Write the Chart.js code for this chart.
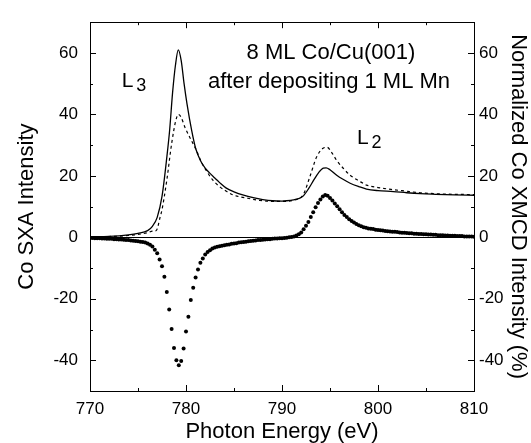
<!DOCTYPE html>
<html>
<head>
<meta charset="utf-8">
<script src="https://cdn.jsdelivr.net/npm/chart.js@4.4.1/dist/chart.umd.min.js"></script>
<style>
  html, body { margin: 0; padding: 0; background: #fff; }
  #wrap { width: 531px; height: 443px; }
</style>
</head>
<body>
<div id="wrap"><canvas id="xmcd" width="531" height="443"></canvas></div>
<script>
// Co L-edge absorption, 8 ML Co/Cu(001) after 1 ML Mn

// solid line (SXA, one helicity)
const solidEnergy = [770, 772, 774, 775, 776, 776.5, 777, 777.5, 778, 778.3, 778.6, 778.9, 779.2, 779.5, 779.8,
  780.1, 780.6, 781, 781.5, 782, 782.5, 783, 783.5, 784.2, 785, 786, 787, 788, 789, 790, 790.5, 791.2,
  791.7, 792.2, 792.8, 793.3, 793.8, 794.3, 794.6, 795, 795.7, 796.4, 797.1, 798, 798.8, 800, 801.6,
  803, 804.4, 806, 808, 810];
const solidValues = [0.2, 0.3, 0.8, 1.3, 2.2, 3.6, 6.5, 13.3, 26, 35, 47, 56, 61, 57.5, 50,
  43.5, 34.6, 29, 25, 22.5, 20.8, 19.3, 17.8, 16, 14.8, 13.7, 12.9, 12.3, 11.9, 11.8, 11.9, 12.2,
  12.6, 13.4, 16, 18.6, 21, 22.5, 22.6, 22, 20.2, 18.8, 17.6, 16.5, 15.7, 15.2, 14.9,
  14.5, 14.2, 14.0, 13.8, 13.7];

// dashed line (SXA, other helicity)
const dashedEnergy = [770, 774, 776, 776.5, 776.9, 777.3, 777.5, 778, 778.5, 778.9, 779.2, 779.5, 779.9,
  780.4, 781.1, 781.6, 782.2, 782.8, 783.5, 784.2, 784.9, 786.3, 787.7, 789, 790, 791.2, 792.2,
  792.9, 793.6, 794.2, 794.7, 795.2, 795.7, 796.4, 797.1, 798, 798.8, 800, 801.6, 803, 804.4,
  806, 808, 810];
const dashedValues = [0.1, 0.6, 1.5, 2.0, 2.2, 6.5, 9, 18.6, 30.4, 37.5, 40, 39, 35.7,
  32.5, 28.2, 24.5, 21.3, 18.6, 16.5, 15, 13.8, 12.8, 12.0, 11.7, 11.7, 12.1, 13.8,
  19.7, 26.1, 28.8, 29.3, 27.5, 25, 22.4, 20.2, 18.4, 17, 16.2, 15.5, 15, 14.5,
  14.2, 14.0, 13.9];

// dotted (XMCD difference, %)
const xmcdEnergy = [
  770, 770.25, 770.5, 770.75, 771, 771.25, 771.5, 771.75, 772, 772.25, 772.5, 772.75, 773, 773.25, 773.5, 773.75, 774, 774.25, 774.5, 774.75,
  775, 775.25, 775.5, 775.75, 776, 776.25, 776.5, 776.75, 777, 777.25, 777.5, 777.75, 778, 778.25, 778.5, 778.75, 779, 779.25, 779.5, 779.75,
  780, 780.25, 780.5, 780.75, 781, 781.25, 781.5, 781.75, 782, 782.25, 782.5, 782.75, 783, 783.25, 783.5, 783.75, 784, 784.25, 784.5, 784.75,
  785, 785.25, 785.5, 785.75, 786, 786.25, 786.5, 786.75, 787, 787.25, 787.5, 787.75, 788, 788.25, 788.5, 788.75, 789, 789.25, 789.5, 789.75,
  790, 790.25, 790.5, 790.75, 791, 791.25, 791.5, 791.75, 792, 792.25, 792.5, 792.75, 793, 793.25, 793.5, 793.75, 794, 794.25, 794.5, 794.75,
  795, 795.25, 795.5, 795.75, 796, 796.25, 796.5, 796.75, 797, 797.25, 797.5, 797.75, 798, 798.25, 798.5, 798.75, 799, 799.25, 799.5, 799.75,
  800, 800.25, 800.5, 800.75, 801, 801.25, 801.5, 801.75, 802, 802.25, 802.5, 802.75, 803, 803.25, 803.5, 803.75, 804, 804.25, 804.5, 804.75,
  805, 805.25, 805.5, 805.75, 806, 806.25, 806.5, 806.75, 807, 807.25, 807.5, 807.75, 808, 808.25, 808.5, 808.75, 809, 809.25, 809.5, 809.75,
  810];
const xmcdValues = [
  -0.2, -0.2, -0.3, -0.3, -0.3, -0.4, -0.4, -0.5, -0.5, -0.5, -0.6, -0.6, -0.7, -0.7, -0.8, -0.9, -0.9, -1.0, -1.1, -1.2,
  -1.3, -1.4, -1.5, -1.7, -2.0, -2.4, -3.0, -4.0, -5.2, -7.2, -9.4, -12.8, -17.8, -23.5, -29.8, -36.0, -40.0, -41.6, -40.2, -36.2,
  -30.6, -25.8, -20.4, -16.4, -13.1, -10.5, -8.3, -6.9, -5.6, -4.8, -4.2, -3.6, -3.3, -3.1, -2.9, -2.7, -2.6, -2.4, -2.3, -2.1,
  -2.0, -1.9, -1.7, -1.6, -1.5, -1.4, -1.3, -1.2, -1.1, -1.0, -0.9, -0.9, -0.8, -0.7, -0.6, -0.6, -0.5, -0.4, -0.4, -0.3,
  -0.3, -0.2, -0.1, 0.0, 0.1, 0.3, 0.6, 1.0, 1.6, 2.6, 3.8, 5.0, 6.6, 8.2, 9.8, 11.2, 12.3, 13.3, 13.8, 13.5,
  12.8, 12.0, 11.0, 10.1, 9.1, 8.2, 7.3, 6.6, 5.9, 5.3, 4.8, 4.3, 3.9, 3.6, 3.3, 3.1, 2.9, 2.8, 2.7, 2.5,
  2.4, 2.3, 2.2, 2.1, 2.0, 1.9, 1.8, 1.8, 1.7, 1.6, 1.5, 1.5, 1.4, 1.3, 1.3, 1.2, 1.2, 1.1, 1.1, 1.0,
  1.0, 0.9, 0.9, 0.8, 0.8, 0.7, 0.7, 0.7, 0.6, 0.6, 0.5, 0.5, 0.5, 0.4, 0.4, 0.4, 0.3, 0.3, 0.3, 0.3,
  0.2];

const xTicks = [770, 780, 790, 800, 810];
const yTicks = [-40, -20, 0, 20, 40, 60];

// text labels placed in data coordinates [energy, value]
const notes = [
  { text: '8 ML Co/Cu(001)', at: [795.1, 60.0], align: 'center' },
  { text: 'after depositing 1 ML Mn', at: [794.9, 50.4], align: 'center' }
];
const edges = [
  { main: 'L', sub: '3', at: [773.3, 50.9] },
  { main: 'L', sub: '2', at: [797.8, 32.3] }
];

const FONT = 'Liberation Sans, Arial, Helvetica, sans-serif';
Chart.defaults.font.family = FONT;
Chart.defaults.color = '#000';

function toPoints(xs, ys) {
  return xs.map((x, i) => ({ x: x, y: ys[i] }));
}

function fixTicks(values) {
  return function (scale) {
    scale.ticks = values.map(v => ({ value: v }));
  };
}

// draws the box, inward major/minor ticks and the text labels
const framePlugin = {
  id: 'framePlugin',
  afterDraw(chart) {
    const { ctx, chartArea: a, scales } = chart;
    ctx.save();
    ctx.strokeStyle = '#000';
    ctx.lineWidth = 1;
    ctx.strokeRect(Math.round(a.left) + 0.5, Math.round(a.top) + 0.5,
      Math.round(a.right - a.left), Math.round(a.bottom - a.top));

    function withMinor(vals, lo, hi) {
      const step = vals[1] - vals[0];
      const out = [];
      vals.forEach(v => {
        out.push([v, 6]);
        if (v + step / 2 > lo && v + step / 2 < hi) out.push([v + step / 2, 3]);
        if (v === vals[0] && v - step / 2 > lo) out.push([v - step / 2, 3]);
      });
      return out;
    }

    ctx.beginPath();
    withMinor(xTicks, scales.x.min, scales.x.max).forEach(([v, len]) => {
      const px = Math.round(scales.x.getPixelForValue(v)) + 0.5;
      ctx.moveTo(px, a.bottom); ctx.lineTo(px, a.bottom - len);
      ctx.moveTo(px, a.top); ctx.lineTo(px, a.top + len);
    });
    withMinor(yTicks, scales.y.min, scales.y.max).forEach(([v, len]) => {
      const py = Math.round(scales.y.getPixelForValue(v)) + 0.5;
      ctx.moveTo(a.left, py); ctx.lineTo(a.left + len, py);
      ctx.moveTo(a.right, py); ctx.lineTo(a.right - len, py);
    });
    ctx.stroke();

    ctx.fillStyle = '#000';
    ctx.textBaseline = 'middle';
    ctx.font = '22px ' + FONT;
    notes.forEach(n => {
      ctx.textAlign = n.align;
      ctx.fillText(n.text, scales.x.getPixelForValue(n.at[0]), scales.y.getPixelForValue(n.at[1]));
    });
    edges.forEach(e => {
      const px = scales.x.getPixelForValue(e.at[0]);
      const py = scales.y.getPixelForValue(e.at[1]);
      ctx.textAlign = 'left';
      ctx.font = '21px ' + FONT;
      ctx.fillText(e.main, px, py);
      const w = ctx.measureText(e.main).width;
      ctx.font = '18px ' + FONT;
      ctx.fillText(e.sub, px + w + 3, py + 5);
    });
    ctx.restore();
  }
};

const config = {
  type: 'line',
  data: {
    datasets: [
      {
        label: 'solid',
        data: toPoints(solidEnergy, solidValues),
        borderColor: '#000',
        borderWidth: 1.3,
        pointRadius: 0,
        cubicInterpolationMode: 'monotone',
        yAxisID: 'y'
      },
      {
        label: 'dashed',
        data: toPoints(dashedEnergy, dashedValues),
        borderColor: '#000',
        borderWidth: 1.2,
        borderDash: [3, 3],
        pointRadius: 0,
        cubicInterpolationMode: 'monotone',
        yAxisID: 'y'
      },
      {
        label: 'XMCD',
        data: toPoints(xmcdEnergy, xmcdValues),
        showLine: false,
        pointRadius: 2,
        pointBackgroundColor: '#000',
        pointBorderWidth: 0,
        yAxisID: 'y'
      }
    ]
  },
  options: {
    responsive: false,
    animation: false,
    layout: { padding: { top: 15, left: 0, right: 0, bottom: 0 } },
    plugins: { legend: { display: false }, tooltip: { enabled: false } },
    scales: {
      x: {
        type: 'linear',
        min: 770,
        max: 810,
        afterBuildTicks: fixTicks(xTicks),
        afterFit: s => { s.height = 52; },
        grid: { display: false, drawTicks: false },
        border: { display: false },
        ticks: { font: { size: 17 }, padding: 8, maxRotation: 0 },
        title: { display: true, text: 'Photon Energy (eV)', font: { size: 22, lineHeight: 1 }, padding: { top: 0, bottom: 0 } }
      },
      y: {
        position: 'left',
        min: -50,
        max: 70,
        afterBuildTicks: fixTicks(yTicks),
        afterFit: s => { s.width = 90; },
        grid: {
          drawTicks: false,
          tickLength: 0,
          color: c => (c.tick && c.tick.value === 0 ? '#000' : 'rgba(0,0,0,0)'),
          lineWidth: 1
        },
        border: { display: false },
        ticks: { font: { size: 17 }, padding: 12 },
        title: { display: true, text: 'Co SXA Intensity', font: { size: 22, lineHeight: 1 }, padding: { top: 16, bottom: 0 } }
      },
      y2: {
        position: 'right',
        min: -50,
        max: 70,
        afterBuildTicks: fixTicks(yTicks),
        afterFit: s => { s.width = 57; },
        grid: { display: false, drawTicks: false },
        border: { display: false },
        ticks: { font: { size: 17 }, padding: 5 },
        title: { display: true, text: 'Normalized Co XMCD Intensity (%)', font: { size: 22, lineHeight: 1 }, padding: { top: 2, bottom: 0 } }
      }
    }
  },
  plugins: [framePlugin]
};

new Chart(document.getElementById('xmcd'), config);
</script>
</body>
</html>
